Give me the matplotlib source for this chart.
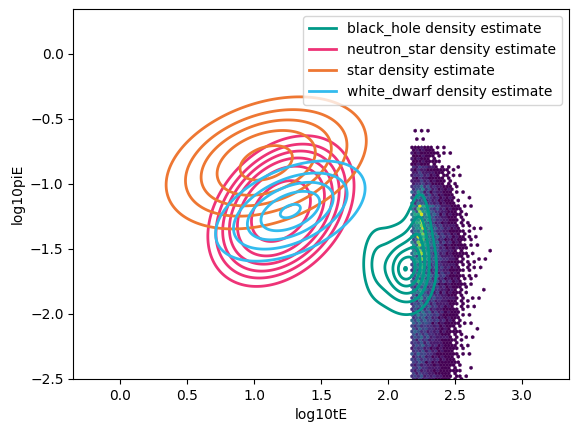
import math
import numpy as np
import matplotlib
matplotlib.use("Agg")
import matplotlib.pyplot as plt
from matplotlib.lines import Line2D

# ---------------- data ----------------
# Hexbin strip: expected counts per coarse cell (rows top->bottom in log10piE,
# columns left->right in log10tE)
hex_x_edges = [2.17, 2.22, 2.27, 2.32, 2.37, 2.42, 2.47, 2.52, 2.57, 2.62, 2.67, 2.72, 2.77]
hex_y_edges = [-0.55, -0.70, -0.85, -1.00, -1.15, -1.30, -1.45, -1.60, -1.75,
               -1.90, -2.05, -2.20, -2.35, -2.50, -2.65]
hex_counts = [
    [0.10, 0.15, 0.10, 0.02, 0.00, 0.00, 0.00, 0.00, 0.00, 0.00, 0.00, 0.00],
    [1.2, 1.5, 1.0, 0.60, 0.25, 0.08, 0.00, 0.00, 0.00, 0.00, 0.00, 0.00],
    [2.0, 3.0, 2.0, 1.3, 0.90, 0.50, 0.20, 0.05, 0.00, 0.00, 0.00, 0.00],
    [4.0, 6.0, 4.0, 2.5, 1.6, 1.1, 0.60, 0.25, 0.08, 0.00, 0.00, 0.00],
    [7.0, 11.0, 7.0, 4.0, 2.5, 1.6, 1.0, 0.50, 0.20, 0.08, 0.00, 0.00],
    [7.0, 11.0, 7.0, 4.5, 3.0, 2.0, 1.3, 0.70, 0.35, 0.15, 0.06, 0.03],
    [6.5, 10.0, 7.0, 4.5, 3.0, 2.0, 1.3, 0.80, 0.40, 0.18, 0.10, 0.04],
    [6.0, 8.5, 6.0, 4.0, 2.8, 2.0, 1.3, 0.70, 0.35, 0.15, 0.06, 0.03],
    [5.0, 7.0, 5.0, 3.5, 2.4, 1.6, 1.1, 0.60, 0.28, 0.12, 0.04, 0.00],
    [4.5, 5.5, 4.5, 3.0, 2.0, 1.3, 0.90, 0.45, 0.22, 0.07, 0.02, 0.00],
    [4.0, 4.5, 3.8, 2.5, 1.6, 1.1, 0.75, 0.38, 0.15, 0.05, 0.00, 0.00],
    [3.5, 4.0, 3.0, 2.0, 1.4, 1.0, 0.70, 0.32, 0.13, 0.04, 0.00, 0.00],
    [3.0, 3.5, 2.5, 1.8, 1.2, 1.0, 0.65, 0.30, 0.12, 0.03, 0.00, 0.00],
    [3.0, 3.5, 2.5, 1.8, 1.2, 1.0, 0.65, 0.30, 0.12, 0.03, 0.00, 0.00],
]

# KDE classes: components (weight, x, y, sd_major, sd_minor, angle_deg, shape_power)
classes = ["black_hole", "neutron_star", "star", "white_dwarf"]
class_colors = ["#009988", "#EE3377", "#EE7733", "#33BBEE"]
class_components = {
    "black_hole": [(0.60, 2.125, -1.655, 0.15, 0.10, 90, 1.5),
                   (0.113, 2.23, -1.36, 0.25, 0.06, 88, 2.0),
                   (0.075, 1.90, -1.60, 0.19, 0.07, 90, 2.0)],
    "neutron_star": [(1.0, 1.20, -1.21, 0.47, 0.33, 50, 4.0)],
    "star": [(1.0, 1.09, -0.84, 0.48, 0.284, 20, 2.5)],
    "white_dwarf": [(1.0, 1.27, -1.21, 0.33, 0.177, 25, 2.0)],
}
# ratio of peak density to contour step for each class
class_peak_over_step = {"black_hole": 6.05, "neutron_star": 6.3,
                        "star": 5.3, "white_dwarf": 5.15}

xlim = (-0.35, 3.35)
ylim = (-2.5, 0.34)

# ---------------- figure ----------------
fig = plt.figure(figsize=(5.78, 4.32), dpi=100)
ax = fig.add_axes([0.1268, 0.1227, 0.8576, 0.8558])

# hexbin on a regular lattice of cell centres
hx_extent = (2.0, 3.0, -2.8, -0.4)
nx, ny = 42, 56
sx = (hx_extent[1] - hx_extent[0]) / nx
sy = (hx_extent[3] - hx_extent[2]) / ny
xe = np.array(hex_x_edges)
ye = np.array(hex_y_edges)
counts = np.array(hex_counts)
px, py, pc = [], [], []
for lat, off in enumerate((0.0, 0.5)):
    for i in range(nx + 1):
        for j in range(ny + 1):
            cx = hx_extent[0] + (i + off) * sx
            cy = hx_extent[2] + (j + off) * sy
            ci = np.searchsorted(xe, cx) - 1
            rj = np.searchsorted(-ye, -cy) - 1
            if ci < 0 or ci >= counts.shape[1] or rj < 0 or rj >= counts.shape[0]:
                continue
            v = counts[rj, ci]
            if v <= 0:
                continue
            t = (0.5 + (2 * i + lat) * 0.7548777 + (2 * j + lat) * 0.5698403) % 1.0
            if v < 1:
                n = 1.0 if t < v else 0.0
            else:
                n = max(1.0, np.floor(v * (0.55 + 0.9 * t) + 0.5))
            if n < 1:
                continue
            px.append(cx); py.append(cy); pc.append(n)
ax.hexbin(px, py, C=pc, reduce_C_function=np.sum, gridsize=(nx, ny),
          extent=hx_extent, cmap="viridis", linewidths=0.2, edgecolors="face")

# density contours
gx = np.linspace(xlim[0], xlim[1], 500)
gy = np.linspace(ylim[0], ylim[1], 500)
GX, GY = np.meshgrid(gx, gy)


def density(comps):
    Z = np.zeros_like(GX)
    for w, mx, my, s1, s2, ang, p in comps:
        a = np.deg2rad(ang)
        dx, dy = GX - mx, GY - my
        u = dx * np.cos(a) + dy * np.sin(a)
        v = -dx * np.sin(a) + dy * np.cos(a)
        m = np.sqrt((u / s1) ** 2 + (v / s2) ** 2)
        norm = 2 * np.pi * s1 * s2 * (2 ** (2 / p) / p) * math.gamma(2 / p)
        Z += w / norm * np.exp(-0.5 * m ** p)
    return Z


handles = []
for name, col in zip(classes, class_colors):
    Z = density(class_components[name])
    ratio = class_peak_over_step[name]
    step = Z.max() / ratio
    levels = step * np.arange(1, int(ratio) + 1)
    ax.contour(GX, GY, Z, levels=levels, colors=col, linewidths=2)
    handles.append(Line2D([], [], color=col, lw=2, label=f"{name} density estimate"))

ax.set_xlim(*xlim)
ax.set_ylim(*ylim)
ax.set_xlabel("log10tE")
ax.set_ylabel("log10piE")
ax.legend(handles=handles, loc="upper right")
fig.savefig("out.png", dpi=100)
